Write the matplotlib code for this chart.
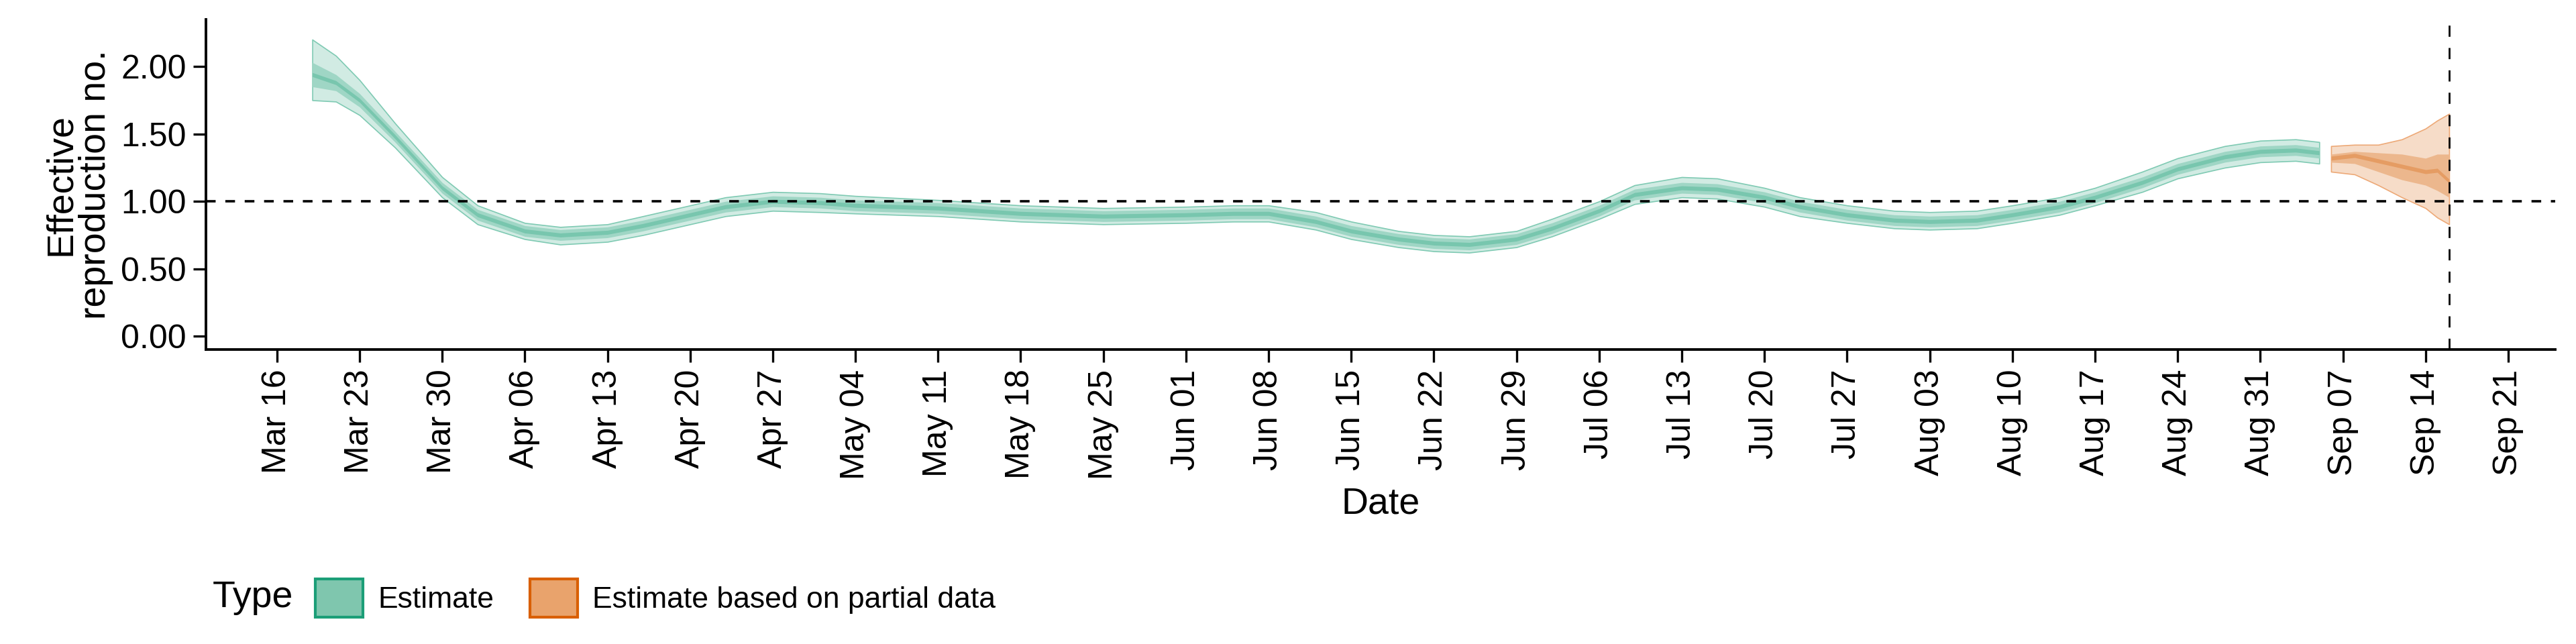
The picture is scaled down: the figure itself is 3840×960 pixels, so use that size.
import matplotlib
matplotlib.use('Agg')
import matplotlib.pyplot as plt
import matplotlib.patches as mpatches
from matplotlib.offsetbox import HPacker
import numpy as np
import pandas as pd

plt.rcParams['font.family'] = ['Liberation Sans', 'DejaVu Sans']

# Estimate (green)
est_dates = ['2020-03-19', '2020-03-21', '2020-03-23', '2020-03-26', '2020-03-30', '2020-04-02',
             '2020-04-06', '2020-04-09', '2020-04-13', '2020-04-16', '2020-04-20', '2020-04-23',
             '2020-04-27', '2020-05-01', '2020-05-04', '2020-05-11', '2020-05-18', '2020-05-25',
             '2020-06-01', '2020-06-05', '2020-06-08', '2020-06-12', '2020-06-15', '2020-06-19',
             '2020-06-22', '2020-06-25', '2020-06-29', '2020-07-02', '2020-07-06', '2020-07-09',
             '2020-07-13', '2020-07-16', '2020-07-20', '2020-07-23', '2020-07-27', '2020-07-31',
             '2020-08-03', '2020-08-07', '2020-08-10', '2020-08-14', '2020-08-17', '2020-08-21',
             '2020-08-24', '2020-08-28', '2020-08-31', '2020-09-03', '2020-09-05']
est_med = [1.94, 1.88, 1.75, 1.48, 1.10, 0.90, 0.78, 0.75, 0.77, 0.82, 0.90, 0.96,
           1.00, 0.99, 0.97, 0.95, 0.91, 0.89, 0.90, 0.91, 0.91, 0.85, 0.78, 0.72,
           0.69, 0.68, 0.72, 0.80, 0.93, 1.05, 1.10, 1.09, 1.03, 0.96, 0.90, 0.86,
           0.85, 0.86, 0.90, 0.96, 1.03, 1.14, 1.24, 1.33, 1.37, 1.38, 1.36]
est_lo90 = [1.75, 1.74, 1.64, 1.40, 1.03, 0.83, 0.72, 0.68, 0.70, 0.75, 0.83, 0.89,
            0.93, 0.92, 0.91, 0.89, 0.85, 0.83, 0.84, 0.85, 0.85, 0.79, 0.72, 0.66,
            0.63, 0.62, 0.66, 0.74, 0.87, 0.98, 1.03, 1.02, 0.96, 0.89, 0.84, 0.80,
            0.79, 0.80, 0.84, 0.90, 0.97, 1.07, 1.17, 1.25, 1.29, 1.30, 1.28]
est_hi90 = [2.20, 2.08, 1.90, 1.58, 1.18, 0.97, 0.84, 0.81, 0.83, 0.89, 0.97, 1.03,
            1.07, 1.06, 1.04, 1.01, 0.97, 0.95, 0.96, 0.97, 0.97, 0.92, 0.85, 0.78,
            0.75, 0.74, 0.78, 0.87, 1.00, 1.12, 1.18, 1.17, 1.10, 1.03, 0.97, 0.93,
            0.92, 0.93, 0.97, 1.03, 1.10, 1.22, 1.32, 1.41, 1.45, 1.46, 1.44]
est_w50 = [0.09, 0.06, 0.05, 0.04, 0.04, 0.04, 0.04, 0.04, 0.04, 0.04, 0.04, 0.04,
           0.04, 0.04, 0.04, 0.04, 0.04, 0.04, 0.04, 0.04, 0.04, 0.04, 0.04, 0.04,
           0.04, 0.04, 0.04, 0.04, 0.04, 0.04, 0.04, 0.04, 0.04, 0.04, 0.04, 0.04,
           0.04, 0.04, 0.04, 0.04, 0.04, 0.04, 0.04, 0.04, 0.04, 0.04, 0.04]

# Estimate based on partial data (orange)
part_dates = ['2020-09-06', '2020-09-08', '2020-09-10', '2020-09-12', '2020-09-14', '2020-09-15', '2020-09-16']
part_med = [1.32, 1.34, 1.30, 1.26, 1.22, 1.23, 1.15]
part_lo90 = [1.22, 1.20, 1.12, 1.03, 0.95, 0.88, 0.83]
part_hi90 = [1.41, 1.42, 1.42, 1.46, 1.54, 1.60, 1.65]
part_lo50 = [1.29, 1.28, 1.22, 1.16, 1.12, 1.08, 1.03]
part_hi50 = [1.35, 1.37, 1.36, 1.35, 1.32, 1.35, 1.35]

green = ['#d1ebe3', '#9fd6c5', '#78c6ae']
orange = ['#f6dcc8', '#ecb78d', '#e59c63']

fig = plt.figure(figsize=(19.2, 4.8), dpi=200)
ax = fig.add_axes([0.08, 0.457, 0.912, 0.513])


def draw(dates, med, lo90, hi90, lo50, hi50, cols, edge):
    d = pd.to_datetime(dates)
    med = np.array(med)
    ax.fill_between(d, lo90, hi90, color=cols[0], lw=0.6, edgecolor=edge)
    ax.fill_between(d, lo50, hi50, color=cols[1], lw=0)
    ax.fill_between(d, med - 0.015, med + 0.015, color=cols[2], lw=0)


m = np.array(est_med)
w = np.array(est_w50)
draw(est_dates, est_med, est_lo90, est_hi90, m - w, m + w, green, '#7fcab3')
draw(part_dates, part_med, part_lo90, part_hi90, part_lo50, part_hi50, orange, '#eda977')

ax.axhline(1.0, color='black', ls=(0, (4, 4)), lw=1.3)
ax.axvline(pd.Timestamp('2020-09-16'), color='black', ls=(0, (6, 6)), lw=1.0)

ax.set_xlim(pd.Timestamp('2020-03-10'), pd.Timestamp('2020-09-25'))
ax.set_ylim(-0.1, 2.35)
ax.set_yticks([0, 0.5, 1.0, 1.5, 2.0])
ax.set_yticklabels(['0.00', '0.50', '1.00', '1.50', '2.00'])
ticks = pd.date_range('2020-03-16', '2020-09-21', freq='7D')
ax.set_xticks(ticks)
ax.set_xticklabels([t.strftime('%b %d') for t in ticks], rotation=90)
ax.tick_params(labelsize=18, width=1.2, length=7)
for s in ['top', 'right']:
    ax.spines[s].set_visible(False)
for s in ['left', 'bottom']:
    ax.spines[s].set_linewidth(1.4)
ax.set_xlabel('Date', fontsize=20)
ax.set_ylabel('Effective\nreproduction no.', fontsize=20, linespacing=1.0)

handles = [mpatches.Patch(facecolor='#7fc6ae', edgecolor='#1B9E77', lw=1.5, label='Estimate'),
           mpatches.Patch(facecolor='#e9a36c', edgecolor='#D95F02', lw=1.5, label='Estimate based on partial data')]
leg = fig.legend(handles=handles, loc='lower left', bbox_to_anchor=(0.072, 0.0), ncol=2,
                 frameon=False, fontsize=16, title='Type', title_fontsize=20,
                 handlelength=1.6, handleheight=1.6, columnspacing=1.2, handletextpad=0.5)
# title inline on the left
box = leg._legend_box
box.__class__ = HPacker
box.sep = 12
box.align = 'center'

fig.savefig('out.png', dpi=200)
